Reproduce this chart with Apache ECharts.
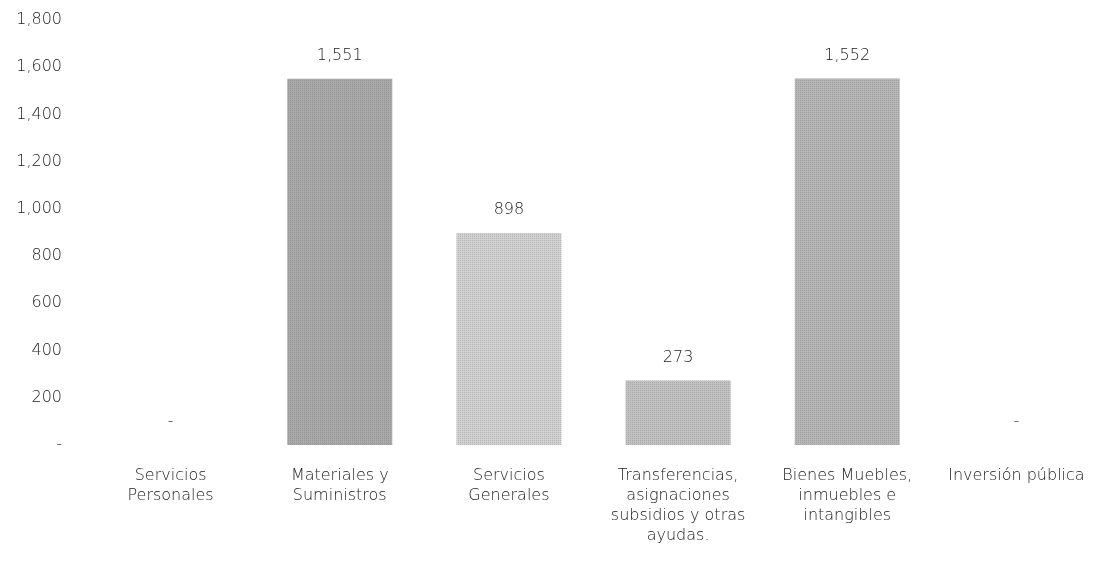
<!DOCTYPE html>
<html>
<head>
<meta charset="utf-8">
<script src="https://cdn.jsdelivr.net/npm/echarts@6/dist/echarts.min.js"></script>
<style>
  html, body { margin: 0; padding: 0; background: #fff; }
  #myChart { width: 1101px; height: 561px; }
</style>
</head>
<body>
<div id="myChart"></div>
<script>
// categorías y valores
var categories = [
  "Servicios\nPersonales",
  "Materiales y\nSuministros",
  "Servicios\nGenerales",
  "Transferencias,\nasignaciones\nsubsidios y otras\nayudas.",
  "Bienes Muebles,\ninmuebles e\nintangibles",
  "Inversión pública"
];
var values = [0, 1551, 898, 273, 1552, 0];
var barColors = ["#b0b0b0", "#a9a9a9", "#d2d2d2", "#c2c2c2", "#b6b6b6", "#b0b0b0"];
var yTicks = [0, 200, 400, 600, 800, 1000, 1200, 1400, 1600, 1800];

function fmt(v) {
  if (v === 0) return "-";
  return String(v).replace(/\B(?=(\d{3})+(?!\d))/g, ",");
}

var myChart = echarts.init(document.getElementById("myChart"));
myChart.setOption({
  animation: false,
  textStyle: { fontFamily: "'DejaVu Sans', sans-serif", fontWeight: 200 },
  grid: { left: 86, right: -4, top: 20, bottom: 116, containLabel: false },
  xAxis: {
    type: "category",
    data: categories,
    axisLine: { show: false },
    axisTick: { show: false },
    axisLabel: { interval: 0, margin: 21, fontSize: 16, lineHeight: 20, color: "#1a1a1a", fontWeight: 200 }
  },
  yAxis: {
    type: "value",
    min: yTicks[0],
    max: yTicks[yTicks.length - 1],
    interval: 200,
    splitLine: { show: false },
    axisLine: { show: false },
    axisTick: { show: false },
    axisLabel: { margin: 24, fontSize: 16, color: "#1a1a1a", fontWeight: 200, formatter: fmt }
  },
  series: [
    {
      type: "bar",
      barWidth: 105,
      data: values.map(function (v, i) {
        return { value: v, itemStyle: { color: barColors[i] } };
      }),
      itemStyle: {
        decal: {
          symbol: "rect",
          symbolSize: 1,
          dashArrayX: [1, 1],
          dashArrayY: [1, 1],
          color: "rgba(90,90,90,0.25)"
        }
      },
      label: {
        show: true,
        position: "top",
        distance: 15,
        fontSize: 16,
        fontWeight: 200,
        color: "#1a1a1a",
        formatter: function (p) { return fmt(p.value); }
      }
    }
  ]
});
</script>
</body>
</html>
